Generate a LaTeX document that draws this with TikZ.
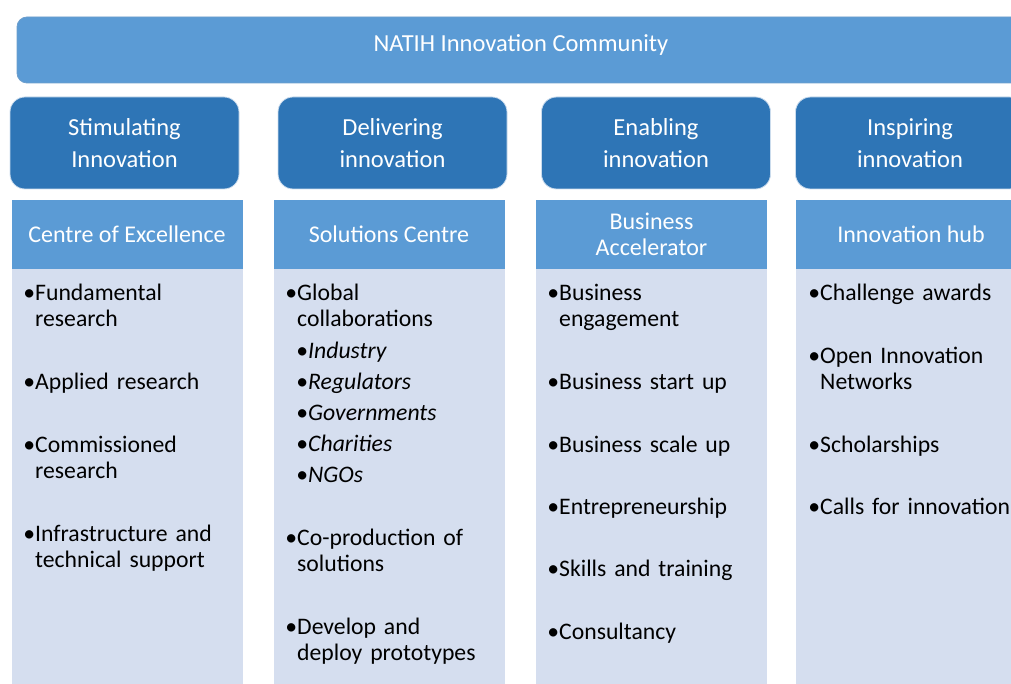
\documentclass[tikz,border=0pt]{standalone}
\usepackage{fontspec}
\setmainfont{Carlito}

\definecolor{natihblue}{RGB}{91,155,213}
\definecolor{natihdark}{RGB}{46,117,182}
\definecolor{natihpale}{RGB}{213,222,239}

% bullet hanging to the left of the item text
\newcommand{\blt}{\leavevmode\llap{•}}

\begin{document}
\begin{tikzpicture}[x=1pt, y=-1pt,
    banner/.style={rectangle, rounded corners=10pt, draw=natihdark!70, line width=0.8pt, fill=natihblue, minimum width=1008pt, minimum height=66pt},
    pillar/.style={rectangle, rounded corners=15pt, draw=white!75!natihdark, line width=0.8pt, fill=natihdark, minimum width=229pt, minimum height=92pt, text=white, align=center, font=\fontsize{24.5}{32}\selectfont},
    unit/.style={rectangle, fill=natihblue, minimum width=231pt, minimum height=69pt, text=white, align=center, font=\fontsize{24}{26}\selectfont},
    panel/.style={rectangle, fill=natihpale, minimum width=231pt, minimum height=430pt, anchor=north},
    item/.style={anchor=base west, inner sep=0pt, text width=225pt, align=left, font=\fontsize{23.7}{26}\selectfont}]

  \useasboundingbox (0,0) rectangle (1011,684);
  \clip (0,0) rectangle (1011,684);

  % community banner
  \node[banner] (natih) at (521,50) {};
  \node[anchor=base, text=white, font=\fontsize{24.5}{28}\selectfont] (natihtitle) at ([yshift=-2pt]natih.center) {NATIH Innovation Community};

  % the four pillars with their units
  \foreach \n/\hx/\ux/\head/\unit in {
      stim/124.5/127/{Stimulating\\Innovation}/{Centre of Excellence},
      deliv/392.5/389/{Delivering\\innovation}/{Solutions Centre},
      enab/656/651.5/{Enabling\\innovation}/{Business\\Accelerator},
      insp/910/911/{Inspiring\\innovation}/{Innovation hub}} {
    \node[pillar] (\n-head) at (\hx,143) {\head};
    \node[unit] (\n-unit) at (\ux,234.5) {\unit};
    \node[panel] (\n-panel) at (\ux,269) {};
  }

  % Centre of Excellence
  \foreach \y/\txt [count=\i] in {301/{Fundamental\\research}, 389/{Applied research},
      452/{Commissioned\\research}, 541/{Infrastructure and\\technical support}}
    \node[item] (stim-\i) at (35,\y) {\blt\txt};

  % Solutions Centre
  \foreach \y/\txt [count=\i] in {301/{Global\\collaborations}, 545/{Co-production of\\solutions},
      634/{Develop and\\deploy prototypes}}
    \node[item] (deliv-\i) at (297,\y) {\blt\txt};
  \foreach \y/\txt [count=\i] in {358/Industry, 389/Regulators, 420/Governments, 451/Charities, 482/NGOs}
    \node[item] (partner-\i) at (308,\y) {\blt\textit{\txt}};

  % Business Accelerator
  \foreach \y/\txt [count=\i] in {301/{Business\\engagement}, 389/{Business start up},
      452/{Business scale up}, 514/Entrepreneurship, 576/{Skills and training}, 639/Consultancy}
    \node[item] (enab-\i) at (559,\y) {\blt\txt};

  % Innovation hub
  \foreach \y/\txt [count=\i] in {301/{Challenge awards}, 363/{Open Innovation\\Networks},
      452/Scholarships, 514/{Calls for innovation}}
    \node[item] (insp-\i) at (820,\y) {\blt\txt};
\end{tikzpicture}
\end{document}
